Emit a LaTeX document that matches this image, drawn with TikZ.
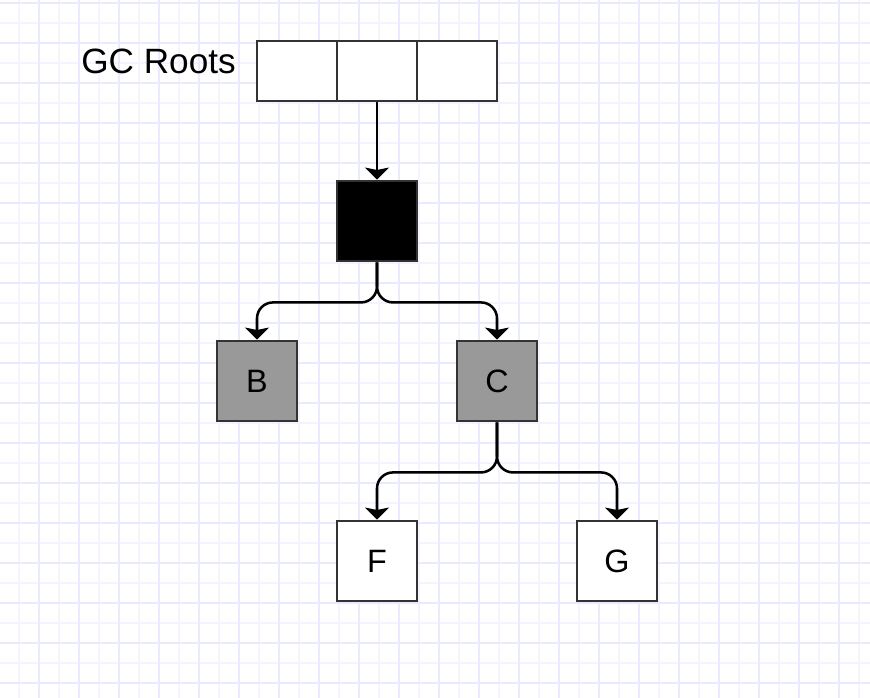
\documentclass[tikz,border=0pt]{standalone}
\usepackage{fontspec}
\setmainfont{Liberation Sans}
\usepackage{tikz}
\usetikzlibrary{calc,arrows.meta}
\definecolor{gridminor}{HTML}{F4F4FF}
\definecolor{gridmajor}{HTML}{EAEAFF}
\definecolor{boxline}{HTML}{333333}
\definecolor{boxgray}{HTML}{999999}

\begin{document}
\begin{tikzpicture}[x=0.025cm, y=-0.025cm,
    objbox/.style={draw=boxline, line width=2pt, fill=white, minimum width=2cm, minimum height=2cm, inner sep=0pt, font=\fontsize{23}{28}\selectfont},
    rootcell/.style={objbox, minimum height=1.5cm},
    ref/.style={draw=black, line width=1.8pt, rounded corners=0.4cm, -{Stealth[length=0.3cm, width=0.6cm, inset=0.06cm]}}]
            \useasboundingbox (0,0) rectangle (870,698);
            \fill[white] (0,0) rectangle (870,698); %defining grids
            \foreach \x in {19,59,...,859} {
              \draw[gridminor, line width=0.8pt] (\x,0) -- (\x,698);
            }
            \foreach \y in {23,63,...,683} {
              \draw[gridminor, line width=0.8pt] (0,\y) -- (870,\y);
            }
            \foreach \x in {39,79,...,839} {
              \draw[gridmajor, line width=0.8pt] (\x,0) -- (\x,698);
            }
            \foreach \y in {3,43,...,683} {
              \draw[gridmajor, line width=0.8pt] (0,\y) -- (870,\y);
            }

            % GC roots
            \node[font=\fontsize{25}{30}\selectfont, anchor=east, inner sep=0pt] (gcroots) at (236,61) {GC Roots};
            \foreach \i in {1,2,3} {
              \node[rootcell] (root\i) at (217+80*\i,71) {};
            }

            % objects
            \node[objbox, fill=black] (a) at (377,221) {};
            \node[objbox, fill=boxgray] (b) at (257,381) {B};
            \node[objbox, fill=boxgray] (c) at (497,381) {C};
            \node[objbox] (f) at (377,561) {F};
            \node[objbox] (g) at (617,561) {G};

            % references
            \draw[ref] (root2.south) -- (a.north);
            \draw[ref] (a.south) -- ++(0,40) -| (b.north);
            \draw[ref] (a.south) -- ++(0,40) -| (c.north);
            \draw[ref] (c.south) -- ++(0,50) -| (f.north);
            \draw[ref] (c.south) -- ++(0,50) -| (g.north);

\end{tikzpicture}
\end{document}
